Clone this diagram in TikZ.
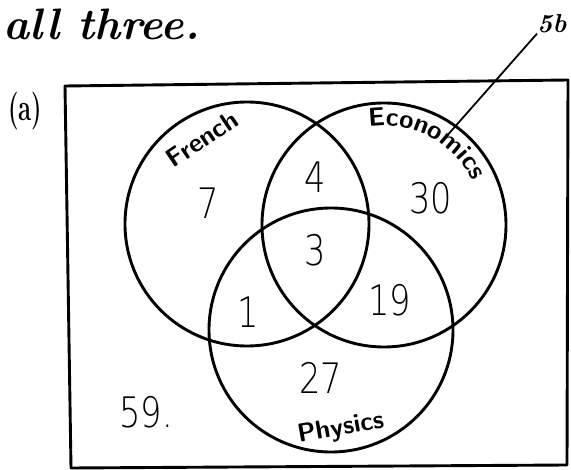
\documentclass[tikz,border=0pt]{standalone}
\usepackage{fontspec}
\usetikzlibrary{decorations.text,calc}
\newfontfamily\numfont{DejaVu Sans ExtraLight}
\begin{document}
\begin{tikzpicture}[x=1pt,y=-1pt,
  outline/.style={line width=2.9pt, line join=round},
  setc/.style={circle,draw,line width=2.9pt,minimum size=244pt,inner sep=0pt},
  num/.style={font=\numfont\fontsize{42}{42}\selectfont, inner sep=0pt, xscale=0.8},
  lbl/.style={font=\sffamily\bfseries\fontsize{26}{26}\selectfont, inner sep=0pt},
  hand/.style={font=\itshape\bfseries\fontsize{44}{44}\selectfont, inner sep=0pt}]
\useasboundingbox (0,0) rectangle (571,470);
% universal set
\draw[outline] (65,86) -- (568,80) -- (567,465) -- (71,468) -- cycle;
% sets
\node[setc] (french) at (247,224) {};
\node[setc] (econ) at (384,225) {};
\node[setc] (phys) at (331,330) {};
% heading texts
\node[hand, anchor=base west] (allthree) at (3,40) {all three.};
\node[font=\itshape\bfseries\fontsize{26}{26}\selectfont, inner sep=0pt, anchor=base west] (q5b) at (537,33) {5b};
\node[font=\bfseries\fontsize{28}{28}\selectfont, inner sep=0pt, yscale=1.35, xscale=0.85] (parta) at (25,111) {(a)};
% leader line
\coordinate (leadend) at (445,138);
\draw[line width=1.8pt] (q5b.south west) -- (leadend);
% set labels
\node[lbl, rotate=34] (frenchlbl) at (202,139) {French};
\path[decorate, decoration={text along path, text align=center,
   text={|\sffamily\bfseries\fontsize{26}{26}\selectfont|Economics}}]
   ($(econ.center)+(-130:99)$) arc[start angle=-130, end angle=5, radius=99];
\node[lbl, rotate=10] (physlbl) at (341,429) {Physics};
% region counts
\node[num] (n7) at (208,203) {7};
\node[num] (n4) at (315,177) {4};
\node[num] (n30) at (431,198) {30};
\node[num] (n3) at (315,250) {3};
\node[num] (n1) at (248,312) {1};
\node[num] (n19) at (390,300) {19};
\node[num] (n27) at (321,378) {27};
\node[num] (n59) at (146,412) {59.};
\end{tikzpicture}
\end{document}
